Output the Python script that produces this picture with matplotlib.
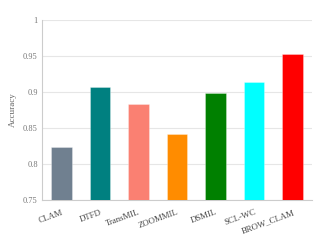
import matplotlib
matplotlib.use("Agg")
import matplotlib.pyplot as plt

categories = ["CLAM", "DTFD", "TransMIL", "ZOOMMIL", "DSMIL", "SCL-WC", "BROW_CLAM"]
accuracy = [0.824, 0.907, 0.883, 0.841, 0.898, 0.914, 0.953]
colors = ["#708090", "#008080", "#FA8072", "#FF8C00", "#008000", "#00FFFF", "#FF0000"]
yticks = [0.75, 0.8, 0.85, 0.9, 0.95, 1.0]
ytick_labels = ["0.75", "0.8", "0.85", "0.9", "0.95", "1"]

plt.rcParams['font.family'] = ['Liberation Serif', 'DejaVu Serif']

fig = plt.figure(figsize=(3.23, 2.5), dpi=100)
ax = fig.add_axes([42/323, 50/250, 270/323, 180/250])

x = list(range(len(categories)))
bars = ax.bar(x, [a - 0.75 for a in accuracy], bottom=0.75, width=0.53,
              color=colors, linewidth=0.6, zorder=3)
for b in bars:
    b.set_edgecolor((1, 1, 1, 0.35))

ax.set_xlim(-0.5, len(categories) - 0.5)
ax.set_ylim(0.75, 1.0)
ax.set_yticks(yticks)
ax.set_yticklabels(ytick_labels, fontsize=6, color="#777777")
ax.set_xticks(x)
ax.set_xticklabels(categories, fontsize=6.3, color="#444444", rotation=20,
                   ha="right", rotation_mode="anchor")
ax.tick_params(axis="both", length=0, pad=3)
ax.tick_params(axis="x", pad=6)
ax.set_ylabel("Accuracy", fontsize=6.5, color="#666666", labelpad=8)
ax.yaxis.set_label_coords(-75/270 + 0.0, 0.5)
ax.yaxis.label.set_position((0, 0.5))
ax.yaxis.set_label_coords((17 - 42) / 270, 0.5)

ax.grid(axis="y", color="#e6e6e6", linewidth=0.8, zorder=0)
for s in ["top", "right"]:
    ax.spines[s].set_visible(False)
ax.spines["left"].set_color("#cccccc")
ax.spines["bottom"].set_color("#cccccc")
ax.spines["left"].set_linewidth(0.8)
ax.spines["bottom"].set_linewidth(0.8)

fig.savefig("out.png", dpi=100)
